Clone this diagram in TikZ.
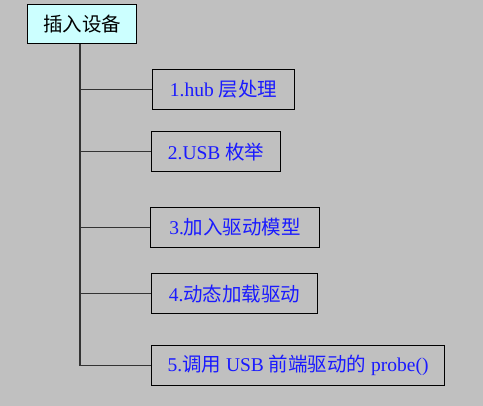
\documentclass[tikz,border=0pt]{standalone}
\usepackage{fontspec}
\setmainfont{Liberation Serif}
\newfontfamily\cjk{Noto Sans CJK SC}
\definecolor{bggray}{HTML}{C0C0C0}
\definecolor{topfill}{HTML}{CCFFFF}
\definecolor{stepblue}{HTML}{1A1AFF}
\begin{document}
\begin{tikzpicture}[x=1pt, y=-1pt]

    \tikzstyle{root} = [rectangle, draw, line width=1.2pt, fill=topfill, minimum width=109pt, minimum height=39pt, anchor=north west, font=\fontsize{19.5}{22}\selectfont\cjk, inner sep=0pt]
    \tikzstyle{stepbox} = [rectangle, draw, line width=1.2pt, minimum height=40pt, anchor=north west, text=stepblue, font=\fontsize{19.5}{22}\selectfont, inner sep=0pt]
    \tikzstyle{branch} = [line width=1.3pt, draw=black!80]

    \fill[bggray] (0,0) rectangle (483,406);
    \useasboundingbox (0,0) rectangle (483,406);

    \node[root] (plug) at (27,4) {插入设备};
    \node[stepbox, minimum width=142pt] (hub) at (152,69) {1.hub {\cjk 层处理}};
    \node[stepbox, minimum width=129pt] (enum) at (151,131) {2.USB {\cjk 枚举}};
    \node[stepbox, minimum width=169pt] (model) at (150,207) {3.{\cjk 加入驱动模型}};
    \node[stepbox, minimum width=166pt] (load) at (151,273) {4.{\cjk 动态加载驱动}};
    \node[stepbox, minimum width=293pt] (probe) at (151,345) {5.{\cjk 调用} USB {\cjk 前端驱动的} probe()};

    \draw[branch] (plug.south -| 80,0) -- (probe.west -| 80,0);
    \draw[branch] (hub.west -| 80,0) -- (hub.west);
    \draw[branch] (enum.west -| 80,0) -- (enum.west);
    \draw[branch] (model.west -| 80,0) -- (model.west);
    \draw[branch] (load.west -| 80,0) -- (load.west);
    \draw[branch] (probe.west -| 80,0) -- (probe.west);

\end{tikzpicture}
\end{document}
